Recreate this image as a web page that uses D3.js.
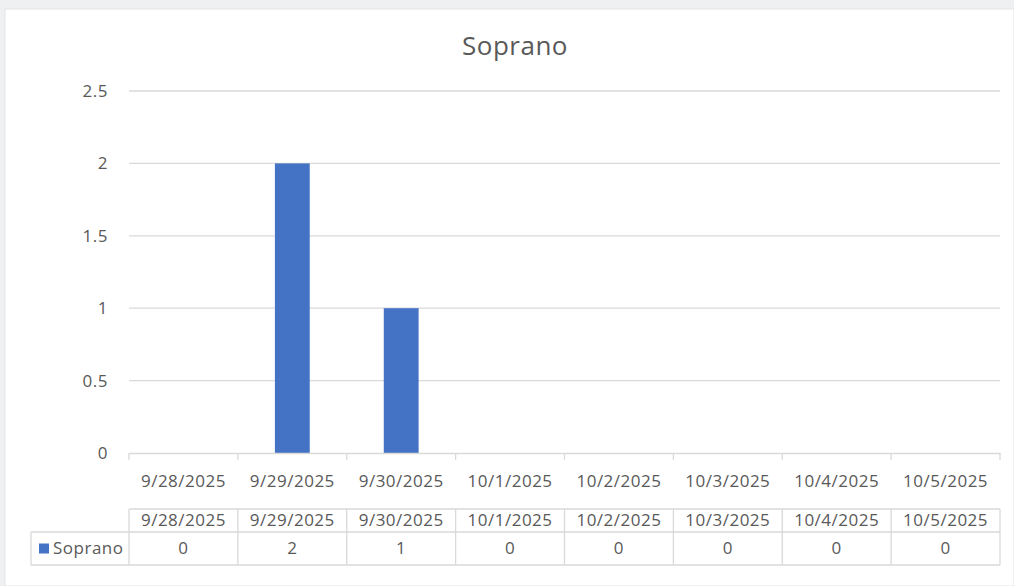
<!DOCTYPE html>
<html lang="en">
<head>
<meta charset="utf-8">
<script src="https://cdn.jsdelivr.net/npm/d3@7"></script>
<style>
  html, body { margin: 0; padding: 0; background: #eff0f2; }
  svg { display: block; }
  text { font-family: "Open Sans", "Liberation Sans", sans-serif; fill: #595959; letter-spacing: 0.5px; }
</style>
</head>
<body>
<script>
// chart data
var dates = ["9/28/2025", "9/29/2025", "9/30/2025", "10/1/2025", "10/2/2025", "10/3/2025", "10/4/2025", "10/5/2025"];
var soprano = [0, 2, 1, 0, 0, 0, 0, 0];
var yTicks = [0, 0.5, 1, 1.5, 2, 2.5];
var seriesName = "Soprano";

const w = 1014, h = 586;
var margin = {top: 91, right: 14, bottom: 133, left: 129};
var gridColor = "#d9d9d9";
var barColor = "#4472c4";
var fs = "17px";

const svg = d3.select("body").append("svg")
  .attr("width", w)
  .attr("height", h);

// white chart panel
svg.append("rect")
  .attr("x", 5).attr("y", 9)
  .attr("width", w - 5).attr("height", h - 9)
  .attr("fill", "#ffffff")
  .attr("stroke", "#e3e4e6");

const x = d3.scaleBand()
  .domain(dates)
  .range([margin.left, w - margin.right])
  .paddingInner(0.68)
  .paddingOuter(0.34);

const xOuter = d3.scaleBand()
  .domain(dates)
  .range([margin.left, w - margin.right]);

const y = d3.scaleLinear()
  .domain([0, 2.5])
  .range([h - margin.bottom, margin.top]);

svg.append("text")
  .attr("x", 515)
  .attr("y", 55)
  .attr("text-anchor", "middle")
  .style("font-size", "26px")
  .text(seriesName);

// gridlines
svg.append("g")
  .selectAll("line")
  .data(yTicks.filter(d => d > 0))
  .enter().append("line")
  .attr("x1", margin.left)
  .attr("x2", w - margin.right)
  .attr("y1", d => y(d))
  .attr("y2", d => y(d))
  .attr("stroke", gridColor)
  .attr("stroke-width", 1.3);

// y axis labels
svg.append("g")
  .selectAll("text")
  .data(yTicks)
  .enter().append("text")
  .attr("x", 108)
  .attr("y", d => y(d))
  .attr("dy", "0.35em")
  .attr("text-anchor", "end")
  .style("font-size", fs)
  .text(d => d);

// bars
svg.append("g")
  .selectAll("rect")
  .data(soprano)
  .enter().append("rect")
  .attr("x", (d, i) => x(dates[i]))
  .attr("width", x.bandwidth())
  .attr("y", d => y(d))
  .attr("height", d => y(0) - y(d))
  .attr("fill", barColor);

// x axis
const xAxis = d3.axisBottom(xOuter).tickSize(0).tickFormat(d => d);
const gx = svg.append("g")
  .attr("transform", "translate(0," + y(0) + ")")
  .call(xAxis);
gx.select(".domain").attr("stroke", gridColor).attr("stroke-width", 1.3);
gx.selectAll("text")
  .attr("y", 28)
  .attr("dy", "0.35em")
  .style("font-size", fs)
  .style("font-family", null);
var bounds = dates.map(d => xOuter(d)).concat([w - margin.right]);
gx.selectAll(".bnd")
  .data(bounds)
  .enter().append("line")
  .attr("class", "bnd")
  .attr("x1", d => d).attr("x2", d => d)
  .attr("y1", 0).attr("y2", 7)
  .attr("stroke", gridColor)
  .attr("stroke-width", 1.3);

// data table
var t1 = 509, t2 = 532, t3 = 565, legLeft = 31;
var table = svg.append("g");
var lineStyle = sel => sel.attr("stroke", gridColor).attr("stroke-width", 1.3);

table.append("line").attr("x1", margin.left).attr("x2", w - margin.right).attr("y1", t1).attr("y2", t1).call(lineStyle);
table.append("line").attr("x1", legLeft).attr("x2", w - margin.right).attr("y1", t2).attr("y2", t2).call(lineStyle);
table.append("line").attr("x1", legLeft).attr("x2", w - margin.right).attr("y1", t3).attr("y2", t3).call(lineStyle);
table.append("line").attr("x1", legLeft).attr("x2", legLeft).attr("y1", t2).attr("y2", t3).call(lineStyle);
table.selectAll(".vl")
  .data(bounds)
  .enter().append("line")
  .attr("class", "vl")
  .attr("x1", d => d).attr("x2", d => d)
  .attr("y1", t1).attr("y2", t3)
  .call(lineStyle);

table.selectAll(".hdr")
  .data(dates)
  .enter().append("text")
  .attr("class", "hdr")
  .attr("x", d => xOuter(d) + xOuter.bandwidth() / 2)
  .attr("y", (t1 + t2) / 2)
  .attr("dy", "0.35em")
  .attr("text-anchor", "middle")
  .style("font-size", fs)
  .text(d => d);

table.selectAll(".val")
  .data(soprano)
  .enter().append("text")
  .attr("class", "val")
  .attr("x", (d, i) => xOuter(dates[i]) + xOuter.bandwidth() / 2)
  .attr("y", (t2 + t3) / 2)
  .attr("dy", "0.35em")
  .attr("text-anchor", "middle")
  .style("font-size", fs)
  .text(d => d);

// legend key in table
table.append("rect")
  .attr("x", 39).attr("y", (t2 + t3) / 2 - 5)
  .attr("width", 10).attr("height", 10)
  .attr("fill", barColor);
table.append("text")
  .attr("x", 53)
  .attr("y", (t2 + t3) / 2)
  .attr("dy", "0.35em")
  .style("font-size", fs)
  .text(seriesName);
</script>
</body>
</html>
